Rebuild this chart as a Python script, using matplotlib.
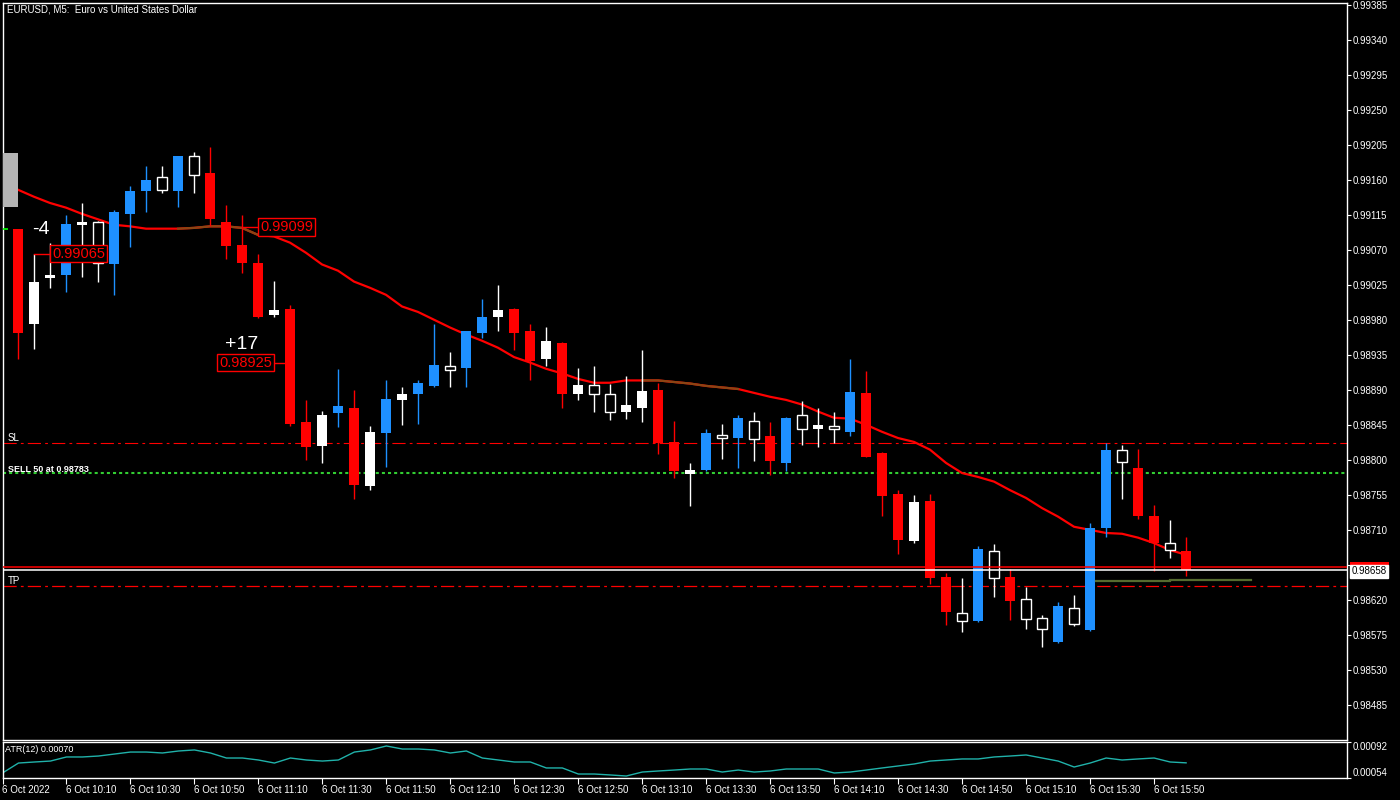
import numpy as np
import matplotlib
matplotlib.use("Agg")
import matplotlib.pyplot as plt
from matplotlib.patches import Rectangle

plt.rcParams["font.family"] = ["Liberation Sans", "DejaVu Sans"]
plt.rcParams["lines.scale_dashes"] = False

# EURUSD M5, 6 Oct 2022. bar 0 = 09:50, one bar per 5 minutes, candles start 09:55
tick_bars = list(range(0, 73, 4))
tick_labels = ["6 Oct 2022", "6 Oct 10:10", "6 Oct 10:30", "6 Oct 10:50", "6 Oct 11:10",
               "6 Oct 11:30", "6 Oct 11:50", "6 Oct 12:10", "6 Oct 12:30", "6 Oct 12:50",
               "6 Oct 13:10", "6 Oct 13:30", "6 Oct 13:50", "6 Oct 14:10", "6 Oct 14:30",
               "6 Oct 14:50", "6 Oct 15:10", "6 Oct 15:30", "6 Oct 15:50"]

open_ = [0.99096, 0.98975, 0.99033, 0.99038, 0.99102, 0.99106, 0.99051, 0.99116, 0.99145, 0.99164,
         0.99145, 0.99191, 0.99169, 0.99105, 0.99076, 0.99053, 0.98986, 0.98994, 0.98848, 0.98818,
         0.98860, 0.98867, 0.98767, 0.98835, 0.98877, 0.98884, 0.98895, 0.98921, 0.98918, 0.98963,
         0.98983, 0.98994, 0.98965, 0.98929, 0.98950, 0.98884, 0.98896, 0.98885, 0.98862, 0.98867,
         0.98890, 0.98823, 0.98782, 0.98787, 0.98832, 0.98828, 0.98850, 0.98831, 0.98796, 0.98857,
         0.98840, 0.98844, 0.98836, 0.98886, 0.98809, 0.98756, 0.98696, 0.98747, 0.98650, 0.98603,
         0.98593, 0.98683, 0.98650, 0.98621, 0.98597, 0.98566, 0.98610, 0.98581, 0.98713, 0.98812,
         0.98790, 0.98728, 0.98693, 0.98683]
high = [0.99097, 0.99065, 0.99079, 0.99114, 0.99130, 0.99107, 0.99121, 0.99152, 0.99178, 0.99178,
        0.99191, 0.99195, 0.99202, 0.99128, 0.99114, 0.99065, 0.99030, 0.98999, 0.98877, 0.98863,
        0.98917, 0.98890, 0.98844, 0.98902, 0.98894, 0.98903, 0.98974, 0.98939, 0.98966, 0.99007,
        0.99025, 0.98995, 0.98975, 0.98971, 0.98951, 0.98918, 0.98920, 0.98898, 0.98908, 0.98941,
        0.98899, 0.98850, 0.98796, 0.98840, 0.98846, 0.98857, 0.98862, 0.98849, 0.98855, 0.98876,
        0.98867, 0.98862, 0.98930, 0.98914, 0.98810, 0.98761, 0.98755, 0.98756, 0.98655, 0.98648,
        0.98689, 0.98692, 0.98660, 0.98637, 0.98601, 0.98617, 0.98626, 0.98719, 0.98821, 0.98819,
        0.98814, 0.98742, 0.98723, 0.98701]
low = [0.98930, 0.98943, 0.99021, 0.99015, 0.99035, 0.99028, 0.99012, 0.99073, 0.99119, 0.99143,
       0.99125, 0.99143, 0.99101, 0.99058, 0.99040, 0.98982, 0.98983, 0.98844, 0.98800, 0.98796,
       0.98842, 0.98750, 0.98761, 0.98791, 0.98845, 0.98846, 0.98894, 0.98893, 0.98893, 0.98957,
       0.98965, 0.98941, 0.98902, 0.98920, 0.98866, 0.98877, 0.98862, 0.98851, 0.98853, 0.98848,
       0.98808, 0.98777, 0.98741, 0.98785, 0.98801, 0.98790, 0.98799, 0.98781, 0.98786, 0.98819,
       0.98817, 0.98821, 0.98830, 0.98803, 0.98728, 0.98679, 0.98693, 0.98641, 0.98588, 0.98579,
       0.98592, 0.98624, 0.98594, 0.98583, 0.98560, 0.98565, 0.98587, 0.98580, 0.98701, 0.98750,
       0.98724, 0.98657, 0.98674, 0.98651]
close = [0.98963, 0.99029, 0.99037, 0.99103, 0.99106, 0.99053, 0.99118, 0.99146, 0.99160, 0.99147,
         0.99190, 0.99166, 0.99109, 0.99075, 0.99053, 0.98983, 0.98993, 0.98846, 0.98817, 0.98857,
         0.98869, 0.98768, 0.98836, 0.98878, 0.98885, 0.98899, 0.98922, 0.98916, 0.98965, 0.98984,
         0.98992, 0.98963, 0.98927, 0.98953, 0.98885, 0.98896, 0.98885, 0.98862, 0.98871, 0.98889,
         0.98821, 0.98785, 0.98787, 0.98835, 0.98828, 0.98854, 0.98827, 0.98799, 0.98854, 0.98840,
         0.98845, 0.98839, 0.98887, 0.98804, 0.98754, 0.98697, 0.98746, 0.98648, 0.98605, 0.98593,
         0.98686, 0.98648, 0.98619, 0.98596, 0.98583, 0.98612, 0.98589, 0.98713, 0.98812, 0.98797,
         0.98728, 0.98693, 0.98684, 0.98658]
# 1 = coloured (blue up / red down) candle, 0 = plain white candle
strong = [1, 0, 0, 1, 0, 0, 1, 1, 1, 0,
          1, 0, 1, 1, 1, 1, 0, 1, 1, 0,
          1, 1, 0, 1, 0, 1, 1, 0, 1, 1,
          0, 1, 1, 0, 1, 0, 0, 0, 0, 0,
          1, 1, 0, 1, 0, 1, 0, 1, 1, 0,
          0, 0, 1, 1, 1, 1, 0, 1, 1, 0,
          1, 0, 1, 0, 0, 1, 0, 1, 1, 0,
          1, 1, 0, 1]

ma = [0.99155, 0.99147, 0.99138, 0.99130, 0.99124, 0.99116, 0.99109, 0.99102, 0.99100, 0.99097,
      0.99097, 0.99097, 0.99098, 0.99100, 0.99100, 0.99098, 0.99089, 0.99087, 0.99079, 0.99066,
      0.99051, 0.99043, 0.99029, 0.99021, 0.99012, 0.98997, 0.98990, 0.98980, 0.98970, 0.98961,
      0.98953, 0.98944, 0.98932, 0.98925, 0.98917, 0.98911, 0.98904, 0.98899, 0.98899, 0.98902,
      0.98902, 0.98902, 0.98900, 0.98898, 0.98895, 0.98893, 0.98891, 0.98886, 0.98881, 0.98877,
      0.98871, 0.98862, 0.98854, 0.98853, 0.98845, 0.98836, 0.98828, 0.98823, 0.98813, 0.98796,
      0.98783, 0.98778, 0.98772, 0.98761, 0.98751, 0.98738, 0.98727, 0.98714, 0.98710, 0.98706,
      0.98705, 0.98700, 0.98693, 0.98684, 0.98678]
ma_flat = [(11, 16), (40, 46)]  # bar ranges where the average is drawn brown

atr = [0.000593, 0.000698, 0.000709, 0.000719, 0.000762, 0.000762, 0.000772, 0.000793, 0.000814, 0.000814,
       0.000804, 0.000825, 0.000836, 0.000804, 0.000751, 0.000751, 0.000730, 0.000698, 0.000751, 0.000730,
       0.000719, 0.000730, 0.000814, 0.000836, 0.000878, 0.000846, 0.000846, 0.000836, 0.000804, 0.000825,
       0.000751, 0.000730, 0.000709, 0.000709, 0.000646, 0.000646, 0.000582, 0.000582, 0.000572, 0.000561,
       0.000603, 0.000614, 0.000624, 0.000635, 0.000635, 0.000603, 0.000624, 0.000603, 0.000614, 0.000635,
       0.000635, 0.000635, 0.000593, 0.000603, 0.000624, 0.000646, 0.000667, 0.000688, 0.000719, 0.000730,
       0.000741, 0.000741, 0.000762, 0.000772, 0.000783, 0.000751, 0.000719, 0.000656, 0.000698, 0.000751,
       0.000730, 0.000741, 0.000751, 0.000709, 0.000700]

price_ticks = [0.99385 - 0.00045 * n for n in range(21)]
sl_price = 0.98822
tp_price = 0.98638
sell_price = 0.98783
bid = 0.98658
ask = 0.98662
marker_price = 0.99096

trade_bars = [2, 15, 18]
trade_prices = [0.99065, 0.99099, 0.98925]
trade_side = ["right", "right", "left"]
trade_points = {0: "-4", 2: "+17"}

olive_from = [68.4, 73.0]
olive_to = [73.0, 78.05]
olive_levels = [0.98644, 0.98646]

BLUE = "#1e90ff"
RED = "#ff0000"
BROWN = "#8b4513"

W, H = 1400, 800
fig = plt.figure(figsize=(14, 8), dpi=100, facecolor="black")
ax = fig.add_axes([2.5 / W, 1 - 740 / H, (1347 - 2.5) / W, (740 - 2.5) / H], facecolor="black")
ax2 = fig.add_axes([2.5 / W, 1 - 778 / H, (1347 - 2.5) / W, 36 / H], facecolor="black")

for a in (ax, ax2):
    for s in a.spines.values():
        s.set_color("white")
        s.set_linewidth(1)
    a.set_xlim(0.03, 84.06)

ax.set_ylim(0.98440, 0.993876)
ax2.set_ylim(0.00054, 0.00092)

# candles
x = np.arange(1, len(open_) + 1)
for xi, o, h, l, c, st in zip(x, open_, high, low, close, strong):
    up = c >= o
    if st:
        col = BLUE if up else RED
        face = col
    else:
        col = "white"
        face = "white" if up else "black"
    ax.vlines(xi, l, h, color=col, lw=1, zorder=3)
    bottom = min(o, c)
    height = max(abs(c - o), 0.000012)
    hollow = face == "black"
    ax.add_patch(Rectangle((xi - 0.34, bottom), 0.68, height, facecolor=face,
                           edgecolor=col, lw=1 if hollow else 0, zorder=4))

# moving average
bars = np.arange(len(ma))
ax.plot(bars, ma, color=RED, lw=1.6, zorder=2)
for a0, a1 in ma_flat:
    ax.plot(bars[a0:a1 + 1], ma[a0:a1 + 1], color=BROWN, lw=1.6, zorder=2)

# trade levels
ax.axhline(sl_price, color=RED, lw=0.8, dashes=(9.5, 3, 2, 3), zorder=1)
ax.axhline(tp_price, color=RED, lw=0.9, dashes=(9.5, 3, 2, 3), zorder=1)
ax.axhline(sell_price, color="#32cd32", lw=1.5, dashes=(2.2, 2.2), zorder=1)
ax.axhline(ask, color=RED, lw=1.1, zorder=5)
ax.axhline(bid, color="white", lw=1.1, zorder=5)
for f, t, lv in zip(olive_from, olive_to, olive_levels):
    ax.plot([f, t], [lv, lv], color="#556b2f", lw=1.6, zorder=5)

yt = ax.get_yaxis_transform()
ax.annotate("SL", (0.004, sl_price), xycoords=yt, xytext=(0, -0.5), textcoords="offset points",
            color="white", fontsize=7, va="bottom", ha="left")
ax.annotate("SELL 50 at %.5f" % sell_price, (0.004, sell_price), xycoords=yt, xytext=(0, -0.5),
            textcoords="offset points", color="white", fontsize=6.5, fontweight="bold",
            va="bottom", ha="left")
ax.annotate("TP", (0.004, tp_price), xycoords=yt, xytext=(0, 0), textcoords="offset points",
            color="white", fontsize=7, va="bottom", ha="left")
ax.hlines(marker_price, 0.05, 0.38, color="#00ff00", lw=1.2, zorder=5)

# trade price boxes
box = dict(boxstyle="square,pad=0.12", fc="black", ec=RED, lw=1)
for n, (k, p, side) in enumerate(zip(trade_bars, trade_prices, trade_side)):
    if side == "right":
        ax.plot([k, k + 1], [p, p], color=RED, lw=1, zorder=5)
        anchor, ha, dx = k + 1, "left", 1.5
    else:
        ax.plot([k - 1, k], [p, p], color=RED, lw=1, zorder=5)
        anchor, ha, dx = k - 1, "right", -1.5
    ax.annotate("%.5f" % p, (anchor, p), xytext=(dx, 0), textcoords="offset points",
                color=RED, fontsize=10.5, ha=ha, va="center", bbox=box, zorder=6)
    if n in trade_points:
        ox = 0 if side == "right" else -11.5
        oy = 17 if side == "right" else 13
        ax.annotate(trade_points[n], (anchor, p), xytext=(ox, oy), textcoords="offset points",
                    color="white", fontsize=14, ha="right", va="center", zorder=6)

# price axis; the tick label under the bid tag is covered, as on the terminal
ax.yaxis.tick_right()
ax.set_yticks(price_ticks)
ax.set_yticklabels(["" if abs(v - bid) < 0.0001 else "%.5f" % v for v in price_ticks])
ax.tick_params(axis="y", colors="white", labelsize=7, length=3, width=0.8, pad=1)
ax.set_xticks([])

# ask tag (mostly hidden behind the bid tag) and bid tag
ax.add_patch(Rectangle((1.002, ask), 0.029, 0.00007, transform=yt, clip_on=False,
                       facecolor=RED, edgecolor="none", zorder=7))
ax.annotate("%.5f" % bid, (1, bid), xycoords=yt, xytext=(3, -0.8), textcoords="offset points",
            color="black", fontsize=7, va="center", ha="left", annotation_clip=False,
            bbox=dict(boxstyle="square,pad=0.15", fc="white", ec="white"), zorder=8)

# ATR panel
ax2.plot(np.arange(len(atr)), atr, color="#20b2aa", lw=1)
ax2.text(0.002, 0.78, "ATR(12) %.5f" % atr[-1], transform=ax2.transAxes, color="white",
         fontsize=6.5, va="center", ha="left")
ax2.yaxis.tick_right()
ax2.set_yticks([0.00092, 0.00054])
ax2.set_yticklabels(["0.00092", "0.00054"])
ax2.tick_params(axis="y", colors="white", labelsize=7, length=3, width=0.8, pad=1)
lbls = ax2.get_yticklabels()
lbls[0].set_va("top")
lbls[1].set_va("bottom")
ax2.set_xticks(tick_bars)
ax2.set_xticklabels(tick_labels)
ax2.tick_params(axis="x", colors="white", labelsize=7, length=4, width=0.8, pad=1)
for t in ax2.get_xticklabels():
    t.set_ha("left")

fig.text(7 / W, 1 - 9 / H, "EURUSD, M5:  Euro vs United States Dollar", color="white",
         fontsize=7, va="center", ha="left")
fig.add_artist(Rectangle((3 / W, 1 - 207 / H), 15 / W, 54 / H, transform=fig.transFigure,
                         facecolor="#b4b4b4", edgecolor="none", zorder=10))

fig.savefig("out.png", dpi=100, facecolor="black")
